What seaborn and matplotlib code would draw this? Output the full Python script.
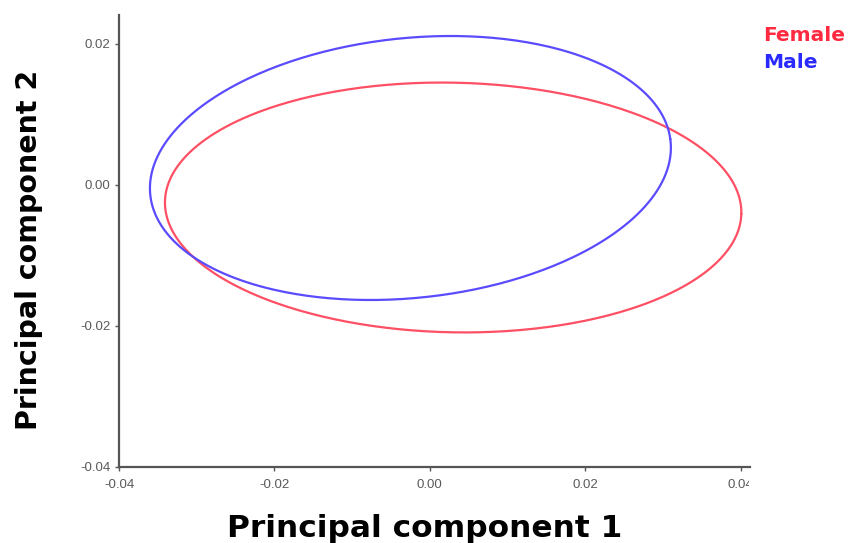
import numpy as np
import pandas as pd
import matplotlib
matplotlib.use("Agg")
import matplotlib.pyplot as plt
import seaborn as sns
from matplotlib.transforms import Bbox

# Confidence ellipses of the first two principal components, by sex
groups = ["Female", "Male"]
center_pc1 = [0.0030, -0.0025]
center_pc2 = [-0.0032, 0.0024]
semi_major = [0.0371, 0.0337]
semi_minor = [0.0177, 0.0184]
angle_deg = [-1.4, 7.0]
colors = ["#FF4F64", "#5B4BFF"]

x_ticks = [-0.04, -0.02, 0.00, 0.02, 0.04]
y_ticks = [-0.04, -0.02, 0.00, 0.02]

# Trace each ellipse outline from its parameters
t = np.linspace(0, 2 * np.pi, 400)
frames = []
for g, cx, cy, a, b, ang in zip(groups, center_pc1, center_pc2,
                                semi_major, semi_minor, angle_deg):
    th = np.deg2rad(ang)
    ex = cx + a * np.cos(t) * np.cos(th) - b * np.sin(t) * np.sin(th)
    ey = cy + a * np.cos(t) * np.sin(th) + b * np.sin(t) * np.cos(th)
    frames.append(pd.DataFrame({"pc1": ex, "pc2": ey, "sex": g}))
df = pd.concat(frames, ignore_index=True)

sns.set_style("white")
plt.rcParams["font.family"] = ["Liberation Sans", "DejaVu Sans"]

fig = plt.figure(figsize=(8.57, 5.43), dpi=100)
ax = fig.add_axes([0.1389, 0.1400, 0.8751 - 0.1389, 0.9724 - 0.1400])

# each outline is one continuous closed path
for g, c in zip(groups, colors):
    sub = df[df["sex"] == g]
    sns.lineplot(data=sub, x="pc1", y="pc2", sort=False, estimator=None,
                 color=c, linewidth=1.6, ax=ax)

ax.set_xlim(-0.04, 0.0412)
ax.set_ylim(-0.04, 0.0241)
ax.set_xticks(x_ticks)
ax.set_yticks(y_ticks)
ax.set_xticklabels([f"{v:.2f}" for v in x_ticks])
ax.set_yticklabels([f"{v:.2f}" for v in y_ticks])

for s in ["top", "right"]:
    ax.spines[s].set_visible(False)
for s in ["left", "bottom"]:
    ax.spines[s].set_color("#555555")
    ax.spines[s].set_linewidth(1.6)

ax.tick_params(axis="both", which="major", direction="out", length=3,
               width=1.0, color="#555555", labelsize=9.5, labelcolor="#5a5a5a",
               bottom=True, left=True)
ax.tick_params(axis="x", pad=6)
ax.tick_params(axis="y", pad=3)

bold = ["DejaVu Sans"]
ax.set_xlabel("Principal component 1", fontsize=22.5, fontweight="bold",
              family=bold, color="black")
ax.set_ylabel("Principal component 2", fontsize=20.5, fontweight="bold",
              family=bold, color="black")
ax.xaxis.set_label_coords(0.485, -0.105)
ax.yaxis.set_label_coords(-0.12, 0.48)

fig.text(0.890, 0.935, "Female", color="#FF2A40", fontsize=14.5,
         fontweight="bold", family=bold, ha="left", va="center")
fig.text(0.890, 0.885, "Male", color="#2A2AFF", fontsize=14.5,
         fontweight="bold", family=bold, ha="left", va="center")

# the rightmost tick label runs past the panel's right edge
fig.canvas.draw()
clip = Bbox.from_extents(0, 0, 749, fig.bbox.height)
for lab in ax.get_xticklabels():
    lab.set_clip_box(clip)
    lab.set_clip_on(True)

fig.savefig("out.png", dpi=100, facecolor="white")
